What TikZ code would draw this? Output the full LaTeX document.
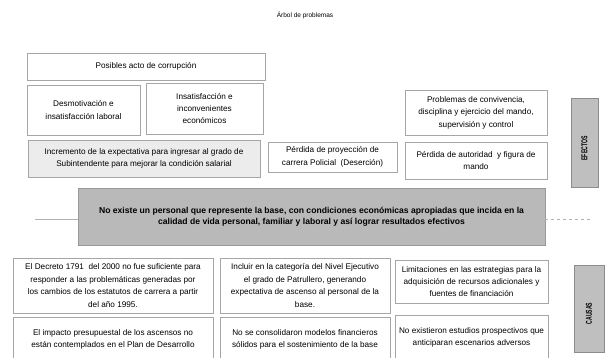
\documentclass[tikz,border=0pt]{standalone}
\usepackage{fontspec}
\setmainfont{Liberation Sans}
\begin{document}
\begin{tikzpicture}[x=1pt, y=-1pt,
    caja/.style={draw=gray!70, line width=.5pt, inner sep=0pt, align=center,
        font=\fontsize{8.2}{12.4}\selectfont},
    cajagris/.style={caja, fill=gray!15},
    problema/.style={draw=gray!80, fill=gray!55, line width=.6pt, inner sep=0pt, align=center,
        font=\bfseries\fontsize{8.6}{11}\selectfont},
    pestana/.style={draw=gray!90, fill=gray!50, line width=.8pt, inner sep=0pt},
    rotulo/.style={rotate=90, font=\bfseries\fontsize{8.5}{9}\selectfont}]
\clip (0,0) rectangle (607,358);
\node (titulo) at (305,15) [font=\fontsize{6.5}{8}\selectfont]{Árbol de problemas};

\node (corrupcion) at (146,66.5) [caja, minimum width=238, minimum height=27]{Posibles acto de corrupción};
\node (desmotivacion) at (83.5,110) [caja, minimum width=113, minimum height=50]{Desmotivación e\\insatisfacción laboral};
\node (insatisfaccion) at (204.5,108.5) [caja, minimum width=117, minimum height=51]{Insatisfacción e\\inconvenientes\\económicos};
\node (incremento) at (144,158.5) [cajagris, minimum width=232, minimum height=37]{Incremento de la expectativa para ingresar al grado de\\Subintendente para mejorar la condición salarial};
\node (desercion) at (332.5,157) [caja, minimum width=129, minimum height=30]{Pérdida de proyección de\\carrera Policial \ (Deserción)};
\node (convivencia) at (476,112.5) [caja, minimum width=142, minimum height=45]{Problemas de convivencia,\\disciplina y ejercicio del mando,\\supervisión y control};
\node (autoridad) at (476,160.5) [caja, minimum width=142, minimum height=37]{Pérdida de autoridad \ y figura de\\mando};
\node (efectos) at (584.5,142.5) [pestana, minimum width=27, minimum height=89]{};
\node at ([yshift=-6]efectos.center) [rotulo]{\scalebox{.6}[1]{EFECTOS}};

\node (central) at (311.5,216.5) [problema, minimum width=467, minimum height=57]{No existe un personal que represente la base, con condiciones económicas apropiadas que incida en la\\calidad de vida personal, familiar y laboral y así lograr resultados efectivos};
\coordinate (izq) at (35,219);
\coordinate (der) at (592,219);
\draw[gray!60, line width=.6pt] (izq)--(central.west |- izq);
\draw[gray!60, line width=.6pt, dashed] (central.east |- der)--(der);

\node (decreto) at (113,285.5) [caja, minimum width=200, minimum height=55]{El Decreto 1791 \ del 2000 no fue suficiente para\\responder a las problemáticas generadas por\\los cambios de los estatutos de carrera a partir\\del año 1995.};
\node (incluir) at (305,285.5) [caja, minimum width=170, minimum height=55]{Incluir en la categoría del Nivel Ejecutivo\\el grado de Patrullero, generando\\expectativa de ascenso al personal de la\\base.};
\node (limitaciones) at (471.5,281.5) [caja, minimum width=153, minimum height=43]{Limitaciones en las estrategias para la\\adquisición de recursos adicionales y\\fuentes de financiación};
\node (causas) at (589,308.5) [pestana, minimum width=30, minimum height=87]{};
\node at ([yshift=-5]causas.center) [rotulo]{\scalebox{.6}[1]{CAUSAS}};

\node (impacto) at (113,339.5) [caja, minimum width=200, minimum height=45]{El impacto presupuestal de los ascensos no\\están contemplados en el Plan de Desarrollo};
\node (modelos) at (305,339.5) [caja, minimum width=170, minimum height=45]{No se consolidaron modelos financieros\\sólidos para el sostenimiento de la base};
\node (estudios) at (471.5,337.5) [caja, minimum width=153, minimum height=45]{No existieron estudios prospectivos que\\anticiparan escenarios adversos};
\end{tikzpicture}
\end{document}
